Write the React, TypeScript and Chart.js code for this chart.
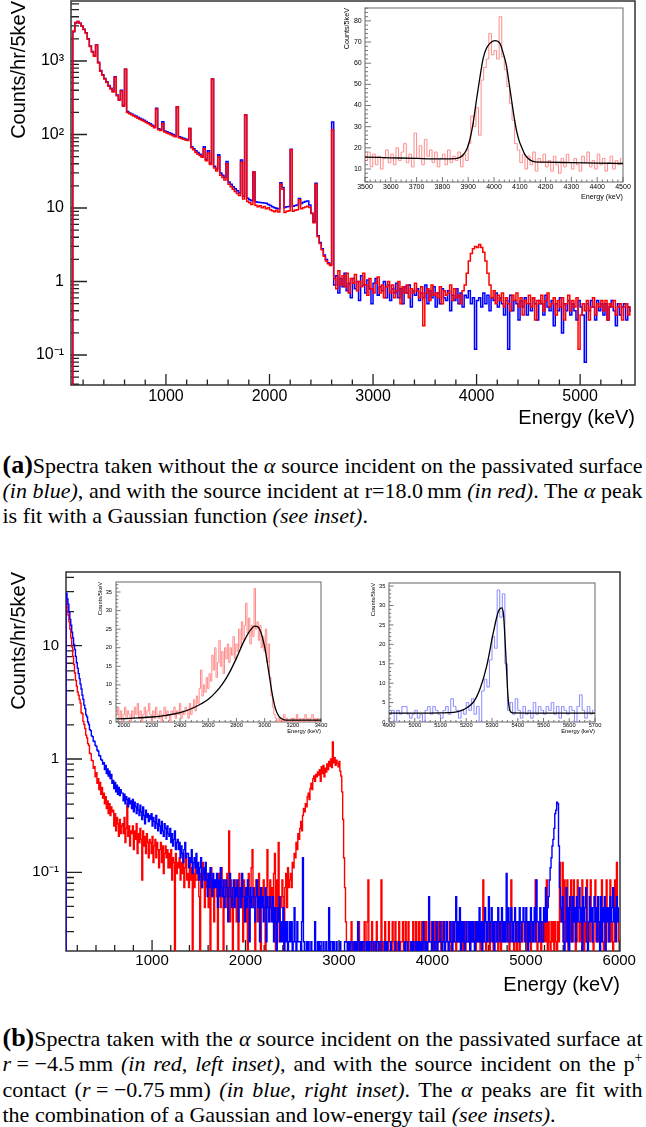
import React, { useEffect, useRef } from 'react';
import { Chart, registerables } from 'chart.js';

Chart.register(...registerables);

const SANS = '"Liberation Sans", Arial, Helvetica, sans-serif';
const SERIF = '"Liberation Serif", "Times New Roman", Times, serif';

// ---------------- (a) main spectra : 20 keV display bins, counts/hr/5keV ----------------
const A_FIRST_CENTER = 90;
const A_BIN = 20;
const blueA = [
  0, 2500, 3300, 3450, 3250, 3000, 2700, 2420, 2000, 1600,
  1350, 1180, 1650, 960, 740, 650, 580, 520, 465, 425,
  390, 610, 345, 300, 400, 250, 770, 205, 196, 190,
  183, 178, 172, 166, 161, 156, 150, 145, 140, 134,
  128, 227, 120, 117, 149, 112, 109, 106, 103, 100,
  97, 239, 93, 91, 89, 87, 85, 121, 68, 64,
  60, 57, 54, 51, 68, 46, 60, 41, 570, 37,
  34, 53, 30, 28, 26, 43, 22.5, 21, 19.5, 18.3,
  17.2, 16, 45, 14.5, 184, 13.6, 13, 12.6, 31, 12.2,
  12, 11.9, 11.8, 11.7, 11.6, 11.2, 10.8, 10.4, 10.1, 9.9,
  9.8, 22, 19, 10.2, 10.4, 10.5, 63, 10.6, 10.8, 11,
  13.5, 11.5, 12, 12.3, 12.5, 11, 8.5, 6.5, 21.7, 4.2,
  3.4, 2.8, 2.3, 2.0, 1.8, 1.7, 148,
  0.9, 1.2, 0.7, 1.1, 0.85, 1.3, 0.75, 0.95, 0.6, 1.1,
  0.8, 1.0, 0.55, 1.2, 0.9, 0.7, 1.05, 0.8, 0.5, 0.95,
  1.1, 0.65, 0.85, 0.75, 1.0, 0.6, 0.9, 0.55, 0.8, 0.7,
  0.95, 0.6, 0.8, 0.5, 0.85, 0.7, 0.9, 0.45, 0.75, 0.65,
  0.8, 0.55, 0.7, 0.6, 0.9, 0.5, 0.75, 0.6, 0.85, 0.45,
  0.7, 0.5, 0.8, 0.6, 0.55, 0.75, 0.4, 0.65, 0.55, 0.8,
  0.5, 0.7, 0.45, 0.65, 0.6, 0.75, 0.5, 0.6, 0.12, 0.55,
  0.6, 0.45, 0.7, 0.5, 0.65, 0.4, 0.6, 0.55, 0.7, 0.45,
  0.6, 0.5, 0.35, 0.55, 0.12, 0.65, 0.4, 0.55, 0.5, 0.3,
  0.55, 0.45, 0.6, 0.35, 0.5, 0.4, 0.6, 0.5, 0.3, 0.55,
  0.5, 0.35, 0.65, 0.45, 0.4, 0.55, 0.25, 0.5, 0.4, 0.6,
  0.2, 0.5, 0.4, 0.55, 0.35, 0.5, 0.4, 0.3, 0.55, 0.45,
  0.35, 0.08, 0.5, 0.4, 0.55, 0.45, 0.3, 0.55, 0.4, 0.5,
  0.35, 0.5, 0.3, 0.45, 0.55, 0.4, 0.25, 0.5, 0.35, 0.45,
  0.5, 0.3, 0.45, 0.4,
];
const redA = [
  0, 2550, 3350, 3450, 3250, 2980, 2680, 2400, 1980, 1580,
  1330, 1160, 1650, 940, 725, 640, 570, 510, 455, 415,
  380, 600, 337, 293, 390, 243, 770, 199, 191, 185,
  178, 173, 167, 161, 156, 151, 146, 141, 136, 130,
  124, 222, 116, 113, 140, 108, 105, 102, 99, 96,
  93, 239, 90, 88, 86, 84, 83, 121, 66, 62,
  57, 54, 52, 49, 64, 44, 56, 39, 570, 35,
  32, 50, 28, 26, 24, 40, 21, 19.5, 18, 16.8,
  15.8, 14.8, 42, 13.3, 184, 12.3, 11.8, 11.2, 31, 10.9,
  10.4, 10.7, 10.1, 10.5, 9.8, 10.1, 9.5, 9.2, 8.9, 9.3,
  8.8, 21, 18, 8.7, 9.0, 9.2, 62, 9.0, 9.3, 9.5,
  13, 9.8, 10.1, 10.3, 10.6, 10.2, 8.4, 6.3, 21, 4.1,
  3.3, 2.7, 2.2, 1.9, 1.75, 1.65, 115,
  1.1, 0.8, 1.4, 0.9, 1.2, 0.85, 1.3, 0.7, 1.1, 0.95,
  1.25, 0.75, 1.0, 0.85, 1.3, 0.9, 0.65, 1.1, 0.8, 0.7,
  0.95, 1.15, 0.7, 0.9, 0.6, 0.85, 1.0, 0.7, 0.9, 0.6,
  0.75, 1.0, 0.5, 0.85, 0.7, 0.9, 0.6, 0.8, 0.7, 0.95,
  0.75, 0.6, 0.85, 0.25, 0.7, 0.8, 0.55, 0.9, 0.65, 0.7,
  0.6, 0.85, 0.5, 0.75, 0.65, 0.7, 0.9, 0.55, 0.8, 0.6,
  0.65, 0.5, 0.75, 0.9, 1.3, 1.9, 2.4, 2.8, 3.0, 2.9,
  3.2, 2.9, 2.5, 1.9, 1.3, 0.9, 0.6, 0.75, 0.5, 0.65,
  0.55, 0.7, 0.45, 0.6, 0.5, 0.4, 0.65, 0.55, 0.7, 0.45,
  0.6, 0.35, 0.55, 0.5, 0.65, 0.45, 0.6, 0.3, 0.55, 0.5,
  0.65, 0.4, 0.55, 0.7, 0.45, 0.5, 0.6, 0.35, 0.55, 0.45,
  0.6, 0.3, 0.5, 0.65, 0.4, 0.55, 0.45, 0.6, 0.12, 0.35,
  0.5, 0.4, 0.55, 0.3, 0.45, 0.6, 0.35, 0.5, 0.45, 0.55,
  0.4, 0.55, 0.3, 0.5, 0.45, 0.55, 0.35, 0.45, 0.5, 0.3,
  0.45, 0.5, 0.35, 0.45,
];

// (a) inset: 10 keV bins, counts per 5 keV
const INSET_A_FIRST = 3505;
const INSET_A_BIN = 10;
const insetA = [
  14, 18, 11, 17, 12, 16, 10, 15, 19, 13,
  17, 12, 20, 14, 18, 22, 13, 17, 11, 27,
  15, 21, 12, 24, 16, 19, 13, 18, 11, 15,
  17, 12, 19, 13, 16, 14, 18, 11, 17, 14,
  22, 35, 30, 39, 26, 52, 58, 62, 74, 64,
  66, 62, 82, 63, 57, 49, 41, 33, 22, 19,
  13, 17, 10, 16, 12, 18, 9, 15, 13, 17,
  11, 14, 9, 16, 12, 8, 15, 11, 17, 13,
  10, 15, 12, 9, 16, 13, 18, 11, 14, 10,
  17, 12, 15, 9, 13, 16, 10, 14, 12, 15,
];
const fitAEnergy = [3500, 3600, 3700, 3800, 3850, 3870, 3880, 3895, 3906, 3919, 3932, 3945, 3958, 3970, 3984, 4003, 4023, 4035, 4048, 4058, 4068, 4078, 4087, 4097, 4106, 4120, 4139, 4160, 4200, 4300, 4400, 4500];
const fitAValue = [15.6, 15.3, 15.0, 14.8, 14.9, 15.6, 16.6, 19.5, 23.7, 31.6, 42.6, 53, 62.3, 66.8, 69.4, 70.7, 69.4, 65, 59, 51, 42.6, 34.5, 28.4, 23.5, 20.6, 16.8, 14.3, 13.4, 13.2, 13.0, 12.8, 12.6];

// ---------------- (b) main spectra : 10 keV display bins, in counts ----------------
const B_FIRST_CENTER = 75; // first bin is the empty one just below the visible range
const B_BIN = 10;
const COUNT_TO_RATE = 0.0122; // counts/hr/5keV carried by one count
const blueB = [
  0,
  2380, 2120, 1900, 1620, 1400, 1240, 1080, 960, 840, 760,
  660, 580, 520, 465, 420, 375, 340, 300, 275, 245,
  228, 201, 193, 174, 165, 149, 146, 131, 129, 118,
  117, 108, 106, 98, 96, 88, 87, 81, 80, 74,
  76, 66, 72, 61, 67, 58, 64, 55, 60, 50,
  53, 45, 51, 42, 48, 40, 46, 39, 44, 41,
  41, 35, 40, 33, 38, 36, 31, 37, 33, 35,
  30, 36, 28, 34, 31, 27, 33, 29, 26, 32,
  28, 24, 31, 26, 22, 29, 25, 27, 23, 26,
  24, 27, 21, 25, 23, 20, 26, 22, 19, 24,
  21, 18, 23, 19, 17, 22, 20, 16, 21, 18,
  17, 20, 15, 18, 14, 16, 19, 13, 15, 16,
  13, 15, 11, 14, 12, 10, 13, 15, 11, 12,
  12, 9, 11, 10, 13, 8, 10, 11, 9, 12,
  8, 10, 7, 9, 11, 6, 8, 9, 7, 10,
  7, 5, 8, 6, 9, 7, 5, 8, 6, 7,
  6, 8, 4, 7, 5, 9, 6, 5, 7, 4,
  5, 7, 6, 3, 6, 8, 5, 4, 6, 7,
  4, 6, 5, 7, 3, 5, 6, 4, 8, 5,
  5, 3, 6, 4, 7, 5, 2, 6, 4, 5,
  6, 4, 3, 5, 7, 4, 5, 2, 6, 4,
  5, 3, 4, 6, 2, 5, 4, 3, 5, 4,
  3, 5, 2, 4, 3, 1, 4, 3, 5, 2,
  3, 2, 4, 1, 3, 2, 3, 1, 2, 3,
  2, 3, 1, 2, 4, 2, 1, 3, 2, 2,
  2, 1, 3, 11, 2, 1, 0, 2, 1, 2,
  1, 0, 2, 1, 0, 1, 3, 0, 1, 2,
  0, 2, 2, 1, 0, 2, 0, 1, 2, 0,
  1, 4, 0, 2, 2, 1, 2, 0, 1, 2,
  0, 1, 0, 2, 1, 0, 0, 1, 2, 2,
  2, 0, 2, 1, 2, 2, 0, 1, 2, 0,
  2, 1, 3, 2, 0, 2, 1, 2, 2, 0,
  1, 2, 0, 2, 1, 2, 2, 0, 1, 2,
  2, 0, 2, 2, 1, 0, 2, 2, 0, 1,
  0, 2, 1, 2, 0, 0, 1, 2, 0, 1,
  0, 1, 2, 0, 0, 1, 2, 1, 0, 0,
  1, 0, 2, 1, 0, 2, 0, 1, 0, 2,
  0, 2, 1, 0, 2, 1, 2, 0, 2, 1,
  2, 0, 3, 2, 1, 2, 0, 2, 5, 2,
  2, 1, 3, 2, 0, 2, 3, 1, 2, 2,
  3, 2, 1, 2, 3, 0, 2, 3, 2, 1,
  2, 3, 2, 0, 3, 2, 3, 5, 2, 3,
  2, 4, 1, 3, 2, 3, 0, 2, 3, 2,
  2, 3, 1, 3, 2, 3, 2, 0, 3, 2,
  3, 2, 4, 2, 3, 1, 3, 2, 4, 3,
  2, 3, 5, 2, 3, 4, 2, 3, 1, 3,
  3, 2, 4, 3, 2, 3, 4, 2, 3, 2,
  3, 8, 2, 4, 3, 2, 4, 3, 2, 3,
  4, 2, 3, 3, 2, 4, 3, 2, 3, 4,
  3, 2, 4, 3, 0, 3, 2, 4, 3, 2,
  3, 4, 2, 7, 3, 3, 2, 4, 3, 2,
  2, 4, 3, 6, 3, 4, 5, 7, 9, 11,
  14, 16, 20, 27, 29, 34, 33, 14, 6, 4,
  3, 5, 2, 0, 3, 6, 2, 4, 1, 5,
  4, 2, 5, 3, 4, 2, 5, 3, 4, 6,
  3, 4, 0, 5, 3, 4, 6, 2, 1, 3,
  5, 3, 4, 2, 4, 5, 3, 4, 2, 5,
  3, 1, 5, 2, 4, 3, 5, 0, 4, 3,
  4, 2, 5, 3, 4, 6, 3, 4, 2, 5,
  3, 4,
];
const redB = [
  0,
  2090, 1800, 1530, 1330, 1150, 960, 800, 660, 560, 470,
  405, 360, 320, 300, 275, 255, 210, 205, 176, 165,
  152, 133, 126, 112, 108, 92, 91, 80, 79, 68,
  70, 57, 62, 50, 55, 44, 51, 40, 46, 37,
  41, 33, 38, 30, 35, 27, 33, 26, 31, 28,
  29, 21, 27, 19, 25, 22, 17, 24, 18, 21,
  22, 18, 25, 15, 20, 33, 17, 21, 14, 19,
  18, 21, 13, 19, 16, 22, 12, 18, 15, 20,
  16, 7, 19, 14, 17, 12, 18, 15, 11, 16,
  15, 12, 17, 10, 14, 16, 11, 15, 13, 9,
  13, 15, 10, 14, 8, 12, 14, 11, 13, 9,
  12, 9, 13, 7, 11, 10, 1, 12, 8, 10,
  9, 11, 7, 10, 8, 12, 6, 9, 11, 7,
  8, 6, 10, 7, 9, 0, 8, 6, 10, 7,
  7, 9, 5, 1, 8, 6, 10, 7, 4, 8,
  6, 8, 4, 7, 1, 9, 5, 7, 3, 6,
  7, 5, 0, 8, 6, 4, 9, 5, 1, 7,
  6, 4, 8, 5, 19, 3, 7, 5, 0, 6,
  5, 7, 3, 6, 1, 8, 4, 6, 5, 2,
  7, 5, 3, 6, 0, 8, 4, 6, 9, 13,
  4, 6, 1, 7, 5, 3, 8, 5, 0, 6,
  5, 7, 4, 1, 6, 13, 5, 3, 7, 4,
  6, 3, 8, 12, 0, 7, 4, 15, 2, 5,
  4, 7, 5, 1, 6, 8, 4, 9, 6, 7,
  8, 6, 10, 9, 12, 11, 15, 13, 18, 16,
  20, 23, 19, 26, 30, 28, 33, 31, 38, 41,
  36, 45, 50, 44, 55, 58, 52, 60, 57, 63,
  59, 66, 52, 70, 61, 72, 57, 68, 63, 74,
  66, 78, 71, 82, 69, 116, 76, 84, 72, 80,
  75, 70, 78, 64, 58, 42, 24, 11, 6, 3,
  2, 0, 2, 1, 2, 3, 0, 2, 1, 2,
  2, 2, 0, 3, 2, 1, 2, 2, 0, 3,
  2, 1, 3, 7, 2, 0, 2, 3, 1, 2,
  0, 2, 3, 2, 1, 2, 0, 7, 2, 1,
  2, 3, 0, 2, 1, 3, 2, 2, 0, 3,
  2, 1, 3, 2, 0, 2, 3, 1, 2, 2,
  3, 0, 2, 3, 2, 1, 3, 2, 0, 2,
  2, 3, 1, 2, 3, 0, 2, 3, 2, 1,
  3, 2, 0, 3, 2, 3, 1, 2, 3, 2,
  2, 3, 2, 1, 3, 2, 0, 3, 2, 3,
  2, 0, 3, 2, 3, 1, 2, 3, 2, 0,
  3, 2, 1, 3, 2, 3, 2, 0, 3, 2,
  2, 3, 2, 3, 0, 2, 3, 1, 2, 3,
  3, 2, 0, 2, 3, 2, 3, 2, 1, 3,
  2, 3, 2, 0, 3, 2, 7, 3, 2, 1,
  3, 2, 3, 1, 2, 3, 2, 0, 3, 2,
  2, 3, 0, 3, 2, 1, 3, 2, 3, 2,
  3, 2, 3, 2, 0, 3, 7, 2, 3, 1,
  2, 3, 1, 3, 2, 0, 3, 2, 2, 3,
  3, 2, 3, 0, 2, 3, 2, 1, 3, 2,
  2, 3, 7, 2, 0, 3, 2, 3, 1, 2,
  3, 2, 3, 2, 7, 1, 3, 2, 0, 3,
  2, 3, 1, 3, 2, 0, 3, 2, 10, 3,
  3, 10, 2, 7, 3, 2, 7, 0, 3, 2,
  7, 3, 2, 7, 3, 0, 2, 7, 3, 2,
  3, 2, 7, 3, 1, 3, 2, 7, 2, 3,
  2, 7, 3, 2, 0, 3, 7, 2, 3, 2,
  3, 2, 3, 7, 2, 0, 3, 2, 7, 3,
  2, 3, 7, 2, 3, 0, 2, 7, 3, 10,
  3, 2,
];

// (b) left inset (red): 10 keV bins
const INSET_BL_FIRST = 1950;
const INSET_BL_BIN = 10;
const insetBL = [
  2, 4, 1, 3, 0, 2, 4, 1, 3, 2,
  0, 3, 1, 4, 2, 5, 1, 3, 0, 2,
  4, 1, 3, 5, 2, 0, 3, 1, 4, 2,
  1, 3, 0, 2, 4, 1, 3, 2, 0, 3,
  2, 4, 1, 3, 2, 5, 1, 3, 2, 4,
  3, 1, 5, 2, 4, 6, 3, 7, 5, 9,
  14, 7, 10, 8, 12, 9, 13, 11, 18, 14,
  20, 12, 16, 22, 15, 19, 13, 20, 17, 21,
  16, 20, 18, 23, 17, 21, 19, 25, 20, 27,
  22, 26, 32, 24, 28, 21, 26, 23, 36, 25,
  27, 22, 26, 20, 23, 19, 25, 16, 21, 12,
  7, 4, 2, 1, 0, 1, 0, 1, 0, 2,
  0, 1, 0, 0, 1, 0, 1, 0, 2, 0,
  1, 0, 1, 0, 2, 0, 1, 0, 1, 2,
  0, 1, 0, 1, 0,
];
const fitBLEnergy = [1950, 2000, 2100, 2200, 2300, 2400, 2500, 2550, 2600, 2650, 2700, 2750, 2800, 2850, 2900, 2930, 2950, 2970, 3000, 3025, 3050, 3075, 3100, 3125, 3150, 3200, 3400];
const fitBLValue = [0.85, 0.9, 1.1, 1.35, 1.8, 2.5, 3.9, 4.9, 6.1, 7.9, 10.2, 13.3, 17.2, 21.5, 24.8, 25.8, 25.7, 24.5, 20.2, 14.5, 8.4, 3.8, 1.6, 0.8, 0.5, 0.5, 0.5];

// (b) right inset (blue): 10 keV bins
const INSET_BR_FIRST = 4905;
const INSET_BR_BIN = 10;
const insetBR = [
  2, 3, 0, 3, 2, 4, 4, 2, 1, 2,
  3, 1, 2, 0, 3, 4, 2, 4, 3, 2,
  1, 3, 4, 2, 6, 4, 3, 1, 3, 2,
  5, 3, 6, 2, 4, 0, 8, 11, 9, 16,
  22, 19, 34, 27, 33, 15, 3, 5, 2, 6,
  3, 1, 4, 2, 3, 1, 5, 2, 4, 3,
  2, 4, 3, 5, 2, 4, 1, 4, 3, 2,
  4, 3, 0, 4, 7, 3, 1, 4, 2, 3,
];
const fitBREnergy = [4900, 5000, 5100, 5150, 5190, 5230, 5255, 5280, 5305, 5325, 5338, 5345, 5350, 5355, 5360, 5365, 5370, 5380, 5500, 5700];
const fitBRValue = [2.3, 2.3, 2.35, 2.5, 3.2, 5.3, 8.8, 14.6, 23, 28.5, 29.4, 27.5, 22, 15.5, 8.8, 4.5, 2.9, 2.35, 2.3, 2.3];

// tick labels
const xTicksA = [1000, 2000, 3000, 4000, 5000];
const xTicksB = [1000, 2000, 3000, 4000, 5000, 6000];
const yTicksA = [0.1, 1, 10, 100, 1000];
const yLabelsA = ['10\u207B\u00B9', '1', '10', '10\u00B2', '10\u00B3'];
const yTicksB = [0.1, 1, 10];
const yLabelsB = ['10\u207B\u00B9', '1', '10'];
const xTicksInsetA = [3500, 3600, 3700, 3800, 3900, 4000, 4100, 4200, 4300, 4400, 4500];
const yTicksInsetA = [10, 20, 30, 40, 50, 60, 70, 80];
const xTicksInsetBL = [2000, 2200, 2400, 2600, 2800, 3000, 3200, 3400];
const xTicksInsetBR = [4900, 5000, 5100, 5200, 5300, 5400, 5500, 5600, 5700];
const yTicksInsetB = [0, 5, 10, 15, 20, 25, 30, 35];

// ---------------- helpers ----------------
type AxisSpec = {
  type: 'linear' | 'logarithmic';
  min: number;
  max: number;
  majors: number[];
  labels: string[];
  minors: number[];
  majorLen: number;
  minorLen: number;
  fontSize: number;
  pad: number;
  title: string;
  titleSize: number;
  titlePad: number;
};
type PlotSpec = {
  left: number;
  top: number;
  width: number;
  height: number;
  area: { l: number; r: number; t: number; b: number };
  x: AxisSpec;
  y: AxisSpec;
  datasets: any[];
  frameColor: string;
  frameWidth: number;
  tickColor: string;
  tickWidth: number;
  background?: string;
};

function linMinors(min: number, max: number, step: number, major: number) {
  const out: number[] = [];
  for (let v = Math.ceil(min / step) * step; v <= max + 1e-9; v += step) {
    const r = v / major;
    if (Math.abs(r - Math.round(r)) > 1e-6) out.push(v);
  }
  return out;
}
function logMinors(min: number, max: number) {
  const out: number[] = [];
  for (let e = Math.floor(Math.log10(min)); e <= Math.ceil(Math.log10(max)); e++) {
    for (let k = 2; k <= 9; k++) {
      const v = k * Math.pow(10, e);
      if (v >= min && v <= max) out.push(v);
    }
  }
  return out;
}
function hist(values: number[], first: number, bin: number, scale: number, empty: number) {
  return values.map((v, i) => ({ x: first + i * bin, y: v > 0 ? v * scale : empty }));
}
function curve(xs: number[], ys: number[]) {
  return xs.map((x, i) => ({ x, y: ys[i] }));
}
function histSet(data: any[], color: string, width: number) {
  return { data, borderColor: color, borderWidth: width, pointRadius: 0, stepped: 'middle', fill: false, tension: 0 };
}
function fitSet(data: any[]) {
  return { data, borderColor: '#000', borderWidth: 1.3, pointRadius: 0, fill: false, cubicInterpolationMode: 'monotone', tension: 0.4 };
}

function axisOptions(ax: AxisSpec, horizontal: boolean, s: PlotSpec) {
  return {
    type: ax.type,
    min: ax.min,
    max: ax.max,
    grid: { display: false, drawTicks: false },
    border: { display: false },
    ticks: {
      autoSkip: false,
      maxRotation: 0,
      minRotation: 0,
      padding: ax.pad,
      color: '#000',
      font: { family: SANS, size: ax.fontSize },
      callback: (_v: any, i: number) => (ax.labels[i] !== undefined ? ax.labels[i] : ''),
    },
    afterBuildTicks: (sc: any) => {
      sc.ticks = ax.majors.map((v) => ({ value: v }));
    },
    afterFit: (sc: any) => {
      if (horizontal) sc.height = s.height - s.area.b;
      else sc.width = s.area.l;
      // keep the plot frame exactly where the reference has it
      sc.paddingTop = 0;
      sc.paddingBottom = 0;
      sc.paddingLeft = 0;
      sc.paddingRight = 0;
    },
    title: {
      display: true,
      text: ax.title,
      align: 'end',
      color: '#000',
      font: { family: SANS, size: ax.titleSize },
      padding: horizontal ? { top: 0, bottom: ax.titlePad } : { top: ax.titlePad, bottom: 0 },
    },
  };
}

function framePlugin(s: PlotSpec) {
  return {
    id: 'rootFrame',
    beforeDraw(chart: any) {
      if (!s.background) return;
      const ctx = chart.ctx;
      ctx.save();
      ctx.fillStyle = s.background;
      ctx.fillRect(0, 0, chart.width, chart.height);
      ctx.restore();
    },
    beforeDatasetsDraw(chart: any) {
      const { ctx, chartArea: a, scales } = chart;
      const xs = scales.x;
      const ys = scales.y;
      ctx.save();
      ctx.strokeStyle = s.tickColor;
      ctx.lineWidth = s.tickWidth;
      ctx.beginPath();
      const xt = (list: number[], len: number) => {
        for (const v of list) {
          const p = xs.getPixelForValue(v);
          if (p < a.left - 0.5 || p > a.right + 0.5) continue;
          ctx.moveTo(p, a.bottom);
          ctx.lineTo(p, a.bottom - len);
        }
      };
      const yt = (list: number[], len: number) => {
        for (const v of list) {
          const p = ys.getPixelForValue(v);
          if (p < a.top - 0.5 || p > a.bottom + 0.5) continue;
          ctx.moveTo(a.left, p);
          ctx.lineTo(a.left + len, p);
        }
      };
      xt(s.x.majors, s.x.majorLen);
      xt(s.x.minors, s.x.minorLen);
      yt(s.y.majors, s.y.majorLen);
      yt(s.y.minors, s.y.minorLen);
      ctx.stroke();
      ctx.strokeStyle = s.frameColor;
      ctx.lineWidth = s.frameWidth;
      ctx.strokeRect(a.left, a.top, a.right - a.left, a.bottom - a.top);
      ctx.restore();
    },
  };
}

function buildConfig(s: PlotSpec): any {
  return {
    type: 'line',
    data: { datasets: s.datasets },
    options: {
      animation: false,
      responsive: false,
      devicePixelRatio: 1,
      events: [],
      layout: { padding: { left: 0, top: s.area.t, right: s.width - s.area.r, bottom: 0 } },
      plugins: { legend: { display: false }, tooltip: { enabled: false }, title: { display: false } },
      scales: { x: axisOptions(s.x, true, s), y: axisOptions(s.y, false, s) },
    },
    plugins: [framePlugin(s)],
  };
}

function Plot({ spec }: { spec: PlotSpec }) {
  const ref = useRef<HTMLCanvasElement>(null);
  useEffect(() => {
    const chart = new Chart(ref.current as HTMLCanvasElement, buildConfig(spec));
    return () => chart.destroy();
  }, [spec]);
  return (
    <canvas
      ref={ref}
      width={spec.width}
      height={spec.height}
      style={{ position: 'absolute', left: spec.left, top: spec.top, width: spec.width, height: spec.height }}
    />
  );
}

// ---------------- plot specs ----------------
const EMPTY = 1e-4;

const specA: PlotSpec = {
  left: 0, top: 0, width: 646, height: 440,
  area: { l: 71, r: 635, t: 1, b: 385 },
  x: {
    type: 'linear', min: 83, max: 5530, majors: xTicksA, labels: xTicksA.map(String),
    minors: linMinors(83, 5530, 200, 1000), majorLen: 11, minorLen: 5.5,
    fontSize: 16, pad: 2, title: 'Energy (keV)', titleSize: 20, titlePad: 10,
  },
  y: {
    type: 'logarithmic', min: 0.0391, max: 6550, majors: yTicksA, labels: yLabelsA,
    minors: logMinors(0.0391, 6550), majorLen: 16, minorLen: 8,
    fontSize: 16, pad: 7, title: 'Counts/hr/5keV', titleSize: 20, titlePad: 7,
  },
  datasets: [
    histSet(hist(redA, A_FIRST_CENTER, A_BIN, 1, EMPTY), '#ff0000', 1.5),
    histSet(hist(blueA, A_FIRST_CENTER, A_BIN, 1, EMPTY), '#0000ff', 1.5),
  ],
  frameColor: '#333', frameWidth: 1.5, tickColor: '#222', tickWidth: 1.3,
};

const specAInset: PlotSpec = {
  left: 338, top: 2, width: 296, height: 203,
  area: { l: 27, r: 285, t: 6, b: 180 },
  x: {
    type: 'linear', min: 3500, max: 4500, majors: xTicksInsetA, labels: xTicksInsetA.map(String),
    minors: linMinors(3500, 4500, 20, 100), majorLen: 5, minorLen: 2.5,
    fontSize: 7, pad: 1, title: 'Energy (keV)', titleSize: 7.2, titlePad: 3.7,
  },
  y: {
    type: 'linear', min: 3.85, max: 86.1, majors: yTicksInsetA, labels: yTicksInsetA.map(String),
    minors: linMinors(3.85, 86.1, 2, 10), majorLen: 6, minorLen: 3,
    fontSize: 7, pad: 3.3, title: 'Counts/5keV', titleSize: 7.2, titlePad: 4.7,
  },
  datasets: [
    fitSet(curve(fitAEnergy, fitAValue)),
    histSet(hist(insetA, INSET_A_FIRST, INSET_A_BIN, 1, 0), '#ff8a8a', 1),
  ],
  frameColor: '#666', frameWidth: 1, tickColor: '#555', tickWidth: 0.8, background: '#fff',
};

const specB: PlotSpec = {
  left: 0, top: 560, width: 646, height: 440,
  area: { l: 66, r: 620, t: 12, b: 391 },
  x: {
    type: 'linear', min: 79, max: 6008, majors: xTicksB, labels: xTicksB.map(String),
    minors: linMinors(79, 6008, 200, 1000), majorLen: 11, minorLen: 6,
    fontSize: 15, pad: 1, title: 'Energy (keV)', titleSize: 20, titlePad: 3,
  },
  y: {
    type: 'logarithmic', min: 0.0202, max: 44.7, majors: yTicksB, labels: yLabelsB,
    minors: logMinors(0.0202, 44.7), majorLen: 16, minorLen: 8,
    fontSize: 15, pad: 7, title: 'Counts/hr/5keV', titleSize: 20, titlePad: 7,
  },
  datasets: [
    histSet(hist(blueB, B_FIRST_CENTER, B_BIN, COUNT_TO_RATE, EMPTY), '#0000ff', 1.4),
    histSet(hist(redB, B_FIRST_CENTER, B_BIN, COUNT_TO_RATE, EMPTY), '#ff0000', 1.4),
  ],
  frameColor: '#333', frameWidth: 1.5, tickColor: '#222', tickWidth: 1.3,
};

const specBLeft: PlotSpec = {
  left: 94, top: 575, width: 236, height: 162,
  area: { l: 22, r: 227, t: 7, b: 147 },
  x: {
    type: 'linear', min: 1945, max: 3400, majors: xTicksInsetBL, labels: xTicksInsetBL.map(String),
    minors: linMinors(1945, 3400, 40, 200), majorLen: 4, minorLen: 2,
    fontSize: 5.7, pad: 0.5, title: 'Energy (keV)', titleSize: 5.8, titlePad: 2.5,
  },
  y: {
    type: 'linear', min: 0, max: 37.7, majors: yTicksInsetB, labels: yTicksInsetB.map(String),
    minors: linMinors(0, 37.7, 1, 5), majorLen: 4.5, minorLen: 2.2,
    fontSize: 5.7, pad: 4, title: 'Counts/5keV', titleSize: 5.8, titlePad: 2.6,
  },
  datasets: [
    fitSet(curve(fitBLEnergy, fitBLValue)),
    histSet(hist(insetBL, INSET_BL_FIRST, INSET_BL_BIN, 1, 0), '#ff8a8a', 1),
  ],
  frameColor: '#666', frameWidth: 1, tickColor: '#555', tickWidth: 0.8, background: '#fff',
};

const specBRight: PlotSpec = {
  left: 360, top: 575, width: 245, height: 162,
  area: { l: 29, r: 235, t: 8, b: 147 },
  x: {
    type: 'linear', min: 4900, max: 5700, majors: xTicksInsetBR, labels: xTicksInsetBR.map(String),
    minors: linMinors(4900, 5700, 20, 100), majorLen: 4, minorLen: 2,
    fontSize: 5.7, pad: 0.5, title: 'Energy (keV)', titleSize: 5.8, titlePad: 1.9,
  },
  y: {
    type: 'linear', min: 0, max: 35.8, majors: yTicksInsetB, labels: yTicksInsetB.map(String),
    minors: linMinors(0, 35.8, 1, 5), majorLen: 4.5, minorLen: 2.2,
    fontSize: 5.7, pad: 3.6, title: 'Counts/5keV', titleSize: 5.8, titlePad: 9.9,
  },
  datasets: [
    fitSet(curve(fitBREnergy, fitBRValue)),
    histSet(hist(insetBR, INSET_BR_FIRST, INSET_BR_BIN, 1, 0), '#8a8aff', 1),
  ],
  frameColor: '#666', frameWidth: 1, tickColor: '#555', tickWidth: 0.8, background: '#fff',
};

// ---------------- captions ----------------
function CapLine({ top, last, children }: { top: number; last?: boolean; children: React.ReactNode }) {
  return (
    <div
      style={{
        position: 'absolute', left: 2.5, width: 640, top,
        fontFamily: SERIF, fontSize: 22, lineHeight: '26px', color: '#000',
        textAlign: last ? 'left' : 'justify',
        textAlignLast: last ? 'left' : 'justify',
      } as React.CSSProperties}
    >
      {children}
    </div>
  );
}
const bold = { fontWeight: 700, fontSize: 26 } as React.CSSProperties;
const sup = { fontSize: 14, position: 'relative', top: -9 } as React.CSSProperties;

export default function App() {
  return (
    <div style={{ position: 'absolute', left: 0, top: 0, width: 646, height: 1127, background: '#fff', overflow: 'hidden' }}>
      <Plot spec={specA} />
      <Plot spec={specAInset} />
      <CapLine top={452}>
        <span style={bold}>(a)</span>Spectra taken without the <i>α</i> source incident on the passivated surface
      </CapLine>
      <CapLine top={477.5}>
        <i>(in blue)</i>, and with the source incident at r=18.0{'\u2009'}mm <i>(in red)</i>. The <i>α</i> peak
      </CapLine>
      <CapLine top={503} last>
        is fit with a Gaussian function <i>(see inset)</i>.
      </CapLine>

      <Plot spec={specB} />
      <Plot spec={specBLeft} />
      <Plot spec={specBRight} />
      <CapLine top={1025}>
        <span style={bold}>(b)</span>Spectra taken with the <i>α</i> source incident on the passivated surface at
      </CapLine>
      <CapLine top={1050.7}>
        <i>r</i>{'\u2005=\u2005'}−4.5{'\u2009'}mm <i>(in red, left inset)</i>, and with the source incident on the p<span style={sup}>+</span>
      </CapLine>
      <CapLine top={1076.5}>
        contact (<i>r</i>{'\u2005=\u2005'}−0.75{'\u2009'}mm) <i>(in blue, right inset)</i>. The <i>α</i> peaks are fit with
      </CapLine>
      <CapLine top={1102.2} last>
        the combination of a Gaussian and low-energy tail <i>(see insets)</i>.
      </CapLine>
    </div>
  );
}
